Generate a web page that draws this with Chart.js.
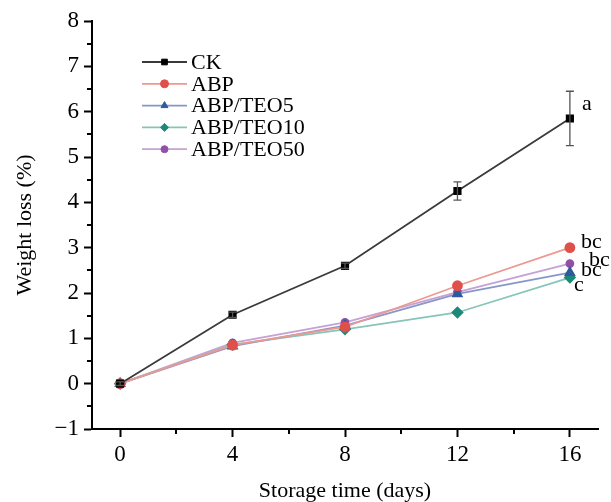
<!DOCTYPE html>
<html>
<head>
<meta charset="utf-8">
<script src="https://cdn.jsdelivr.net/npm/chart.js@4"></script>
<style>
  html, body { margin: 0; padding: 0; background: #fff; }
  #wrap { width: 611px; height: 502px; position: relative; }
</style>
</head>
<body>
<div id="wrap"><canvas id="c" width="611" height="502"></canvas></div>
<script>
// ---- data ----
const days = [0, 4, 8, 12, 16];
const seriesNames = ['CK', 'ABP', 'ABP/TEO5', 'ABP/TEO10', 'ABP/TEO50'];
const ck    = [0, 1.52, 2.60, 4.25, 5.85];
const abp   = [0, 0.85, 1.25, 2.16, 3.00];
const teo5  = [0, 0.83, 1.28, 1.98, 2.45];
const teo10 = [0, 0.86, 1.20, 1.57, 2.34];
const teo50 = [0, 0.90, 1.35, 2.02, 2.65];
const ckErr = [0.04, 0.06, 0.06, 0.20, 0.60];
const xTickValues = [0, 4, 8, 12, 16];
const xMinorValues = [2, 6, 10, 14];
const yTickValues = [-1, 0, 1, 2, 3, 4, 5, 6, 7, 8];
const yMinorValues = [-0.5, 0.5, 1.5, 2.5, 3.5, 4.5, 5.5, 6.5, 7.5];
const sigText = ['a', 'bc', 'bc', 'bc', 'c'];
const sigY    = [6.16, 3.13, 2.72, 2.50, 2.18];

const FONT = '"Liberation Serif", "DejaVu Serif", serif';

const styles = [
  { point: '#000000', line: '#3a3a3a', shape: 'rect',     r: 4.5 },
  { point: '#e0504a', line: '#ec9a90', shape: 'circle',   r: 4.5 },
  { point: '#2f5a9c', line: '#8797c8', shape: 'triangle', r: 5   },
  { point: '#1c8a7a', line: '#86c6b8', shape: 'rectRot',  r: 5   },
  { point: '#9050a8', line: '#c7a0d6', shape: 'circle',   r: 3.5 }
];
const allSeries = [ck, abp, teo5, teo10, teo50];

const datasets = allSeries.map((vals, i) => ({
  label: seriesNames[i],
  data: days.map((d, k) => ({ x: d, y: vals[k] })),
  borderColor: styles[i].line,
  backgroundColor: styles[i].point,
  pointBackgroundColor: styles[i].point,
  pointBorderColor: styles[i].point,
  pointStyle: styles[i].shape,
  pointRadius: styles[i].r,
  borderWidth: 1.8,
  tension: 0
}));

const extras = {
  id: 'extras',
  afterDatasetsDraw(chart) {
    const ctx = chart.ctx;
    const xs = chart.scales.x, ys = chart.scales.y;
    const ca = chart.chartArea;
    ctx.save();
    // error bars for CK
    ctx.strokeStyle = '#555';
    ctx.lineWidth = 1.3;
    days.forEach((d, k) => {
      const px = xs.getPixelForValue(d);
      const top = ys.getPixelForValue(ck[k] + ckErr[k]);
      const bot = ys.getPixelForValue(ck[k] - ckErr[k]);
      ctx.beginPath();
      ctx.moveTo(px, top); ctx.lineTo(px, bot);
      ctx.moveTo(px - 4, top); ctx.lineTo(px + 4, top);
      ctx.moveTo(px - 4, bot); ctx.lineTo(px + 4, bot);
      ctx.stroke();
    });
    // minor ticks
    ctx.strokeStyle = '#000';
    ctx.lineWidth = 2;
    xMinorValues.forEach(v => {
      const px = Math.round(xs.getPixelForValue(v));
      ctx.beginPath();
      ctx.moveTo(px, ca.bottom); ctx.lineTo(px, ca.bottom + 5);
      ctx.stroke();
    });
    yMinorValues.forEach(v => {
      const py = Math.round(ys.getPixelForValue(v));
      ctx.beginPath();
      ctx.moveTo(ca.left - 5, py); ctx.lineTo(ca.left, py);
      ctx.stroke();
    });
    // significance letters
    ctx.fillStyle = '#000';
    ctx.font = '22px ' + FONT;
    ctx.textBaseline = 'middle';
    ctx.textAlign = 'left';
    const sigDx = [12, 11, 19, 11, 4];
    sigText.forEach((t, i) => {
      const px = xs.getPixelForValue(16) + sigDx[i];
      const py = ys.getPixelForValue(sigY[i]);
      ctx.fillText(t, px, py);
    });
    // legend
    const lx0 = 142, lx1 = 187, ly0 = 62, lstep = 21.8;
    chart.data.datasets.forEach((ds, i) => {
      const y = ly0 + i * lstep;
      ctx.strokeStyle = ds.borderColor;
      ctx.lineWidth = 1.8;
      ctx.beginPath();
      ctx.moveTo(lx0, y); ctx.lineTo(lx1, y);
      ctx.stroke();
      ctx.fillStyle = ds.pointBackgroundColor;
      ctx.strokeStyle = ds.pointBorderColor;
      ctx.lineWidth = 1;
      Chart.helpers.drawPoint(ctx, { pointStyle: ds.pointStyle, radius: Math.min(ds.pointRadius, 4), rotation: 0, borderWidth: 1 }, (lx0 + lx1) / 2, y);
      ctx.fillStyle = '#000';
      ctx.font = '22px ' + FONT;
      ctx.fillText(ds.label, 191, y + 1);
    });
    ctx.restore();
  }
};

new Chart(document.getElementById('c'), {
  type: 'line',
  data: { datasets },
  plugins: [extras],
  options: {
    responsive: false,
    animation: false,
    layout: { padding: { top: 21, right: 13, left: 0, bottom: 0 } },
    plugins: { legend: { display: false }, tooltip: { enabled: false } },
    scales: {
      x: {
        type: 'linear',
        min: -1, max: 17,
        afterBuildTicks: s => { s.ticks = xTickValues.map(v => ({ value: v })); },
        afterFit: s => { s.height = 73; },
        border: { color: '#000', width: 2 },
        grid: { drawOnChartArea: false, drawTicks: true, tickLength: 8, tickColor: '#000', tickWidth: 2 },
        ticks: { color: '#000', font: { family: FONT, size: 23 }, padding: 4, maxRotation: 0 },
        title: { display: true, text: 'Storage time (days)', color: '#000', font: { family: FONT, size: 22, lineHeight: 1 }, padding: { top: 0, bottom: 0 } }
      },
      y: {
        type: 'linear',
        min: -1, max: 8,
        afterBuildTicks: s => { s.ticks = yTickValues.map(v => ({ value: v })); },
        afterFit: s => { s.width = 92; },
        border: { color: '#000', width: 2 },
        grid: { drawOnChartArea: false, drawTicks: true, tickLength: 8, tickColor: '#000', tickWidth: 2 },
        ticks: {
          color: '#000', font: { family: FONT, size: 23 }, padding: 5,
          callback: v => (v < 0 ? '\u2212' + Math.abs(v) : String(v))
        },
        title: { display: true, text: 'Weight loss (%)', color: '#000', font: { family: FONT, size: 22, lineHeight: 1 }, padding: { top: 14, bottom: 0 } }
      }
    }
  }
});
</script>
</body>
</html>
